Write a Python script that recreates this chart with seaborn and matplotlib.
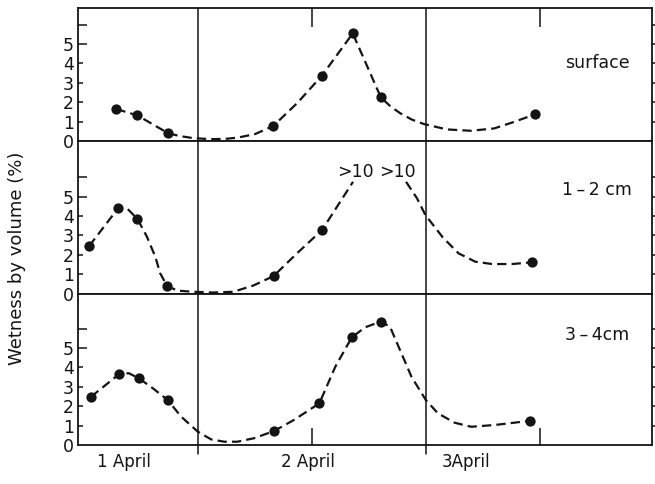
import numpy as np
import pandas as pd
import matplotlib
matplotlib.use("Agg")
import matplotlib.pyplot as plt
import matplotlib.lines as mlines
import seaborn as sns

# ---------------- data (hours since 1 April 00:00, wetness % by volume) -------------
panel_names = ["surface", "1\u2009\u2013\u20092 cm", "3\u2009\u2013\u20094cm"]
day_labels = ["1 April", "2 April", "3April"]

surface_obs_h = [15.44, 17.66, 20.90, 31.93, 37.03, 40.31, 43.27, 59.49]
surface_obs_v = [1.65, 1.32, 0.40, 0.77, 3.35, 5.55, 2.25, 1.38]
surface_curve_h = [15.44, 17.66, 20.90, 22.10, 23.26, 24.53, 25.80, 27.07, 28.23,
                   30.03, 31.93, 34.47, 37.03, 40.31, 43.27, 44.30, 45.32, 46.52,
                   47.78, 50.22, 52.72, 55.18, 57.30, 59.49]
surface_curve_v = [1.65, 1.32, 0.40, 0.26, 0.17, 0.12, 0.10, 0.12, 0.18,
                   0.36, 0.77, 1.96, 3.35, 5.55, 2.25, 1.78, 1.43, 1.11,
                   0.88, 0.60, 0.53, 0.65, 0.99, 1.38]

cm12_obs_h = [12.58, 15.66, 17.66, 20.76, 31.98, 37.07, 59.18]
cm12_obs_v = [2.45, 4.42, 3.84, 0.40, 0.90, 3.27, 1.61]
cm12_curve_a_h = [12.58, 15.66, 16.58, 17.66, 18.65, 19.53, 20.05, 20.76, 21.84,
                  23.53, 25.63, 27.74, 29.84, 31.98, 34.44, 37.07, 38.65, 40.34]
cm12_curve_a_v = [2.45, 4.42, 4.38, 3.84, 2.93, 1.90, 1.04, 0.40, 0.15,
                  0.09, 0.05, 0.09, 0.41, 0.90, 2.07, 3.27, 4.47, 5.76]
cm12_curve_b_h = [45.92, 47.07, 47.95, 49.79, 51.45, 53.21, 54.97, 57.07, 59.18]
cm12_curve_b_v = [5.76, 4.91, 4.05, 2.89, 2.07, 1.64, 1.52, 1.52, 1.61]
cm12_offscale_label = ">10"
cm12_offscale_h = [40.6, 45.05]

cm34_obs_h = [12.78, 15.74, 17.80, 20.83, 32.02, 36.80, 40.21, 43.25, 58.94]
cm34_obs_v = [2.49, 3.66, 3.44, 2.32, 0.72, 2.15, 5.55, 6.36, 1.25]
cm34_curve_h = [12.78, 15.74, 16.75, 17.80, 19.29, 20.83, 22.26, 24.00, 25.40,
                26.79, 28.18, 29.93, 32.02, 34.12, 36.80, 38.48, 40.21, 41.62,
                43.25, 44.23, 45.28, 46.49, 48.00, 49.28, 51.03, 52.77, 55.21,
                57.31, 58.94]
cm34_curve_v = [2.49, 3.66, 3.70, 3.44, 2.92, 2.32, 1.46, 0.69, 0.29,
                0.17, 0.17, 0.35, 0.72, 1.29, 2.15, 4.04, 5.55, 6.07,
                6.36, 6.10, 4.90, 3.52, 2.32, 1.63, 1.15, 0.94, 1.03,
                1.15, 1.25]

midnights = [24, 48]
noons = [36, 60]
label_hours = [16.2, 35.6, 52.2]

# ---------------- styling ----------------
sns.set_style("white")
plt.rcParams["font.family"] = ["DejaVu Sans"]
INK = "#141414"
FS = 12.5

obs = [pd.DataFrame({"h": surface_obs_h, "v": surface_obs_v}),
       pd.DataFrame({"h": cm12_obs_h, "v": cm12_obs_v}),
       pd.DataFrame({"h": cm34_obs_h, "v": cm34_obs_v})]
curves = [
    pd.DataFrame({"h": surface_curve_h, "v": surface_curve_v, "seg": 0}),
    pd.concat([pd.DataFrame({"h": cm12_curve_a_h, "v": cm12_curve_a_v, "seg": 0}),
               pd.DataFrame({"h": cm12_curve_b_h, "v": cm12_curve_b_v, "seg": 1})]),
    pd.DataFrame({"h": cm34_curve_h, "v": cm34_curve_v, "seg": 0}),
]
ylims = [6.86, 7.86, 7.81]
label_y = [4.0, 5.33, 5.67]

W, H = 655, 484
fig = plt.figure(figsize=(W / 100, H / 100), dpi=100)
fig.patch.set_facecolor("white")
gs = fig.add_gridspec(3, 1, left=78 / W, right=652 / W, top=1 - 8 / H,
                      bottom=1 - 445 / H, hspace=0, height_ratios=ylims)
axes = [fig.add_subplot(gs[i]) for i in range(3)]

for i, ax in enumerate(axes):
    sns.lineplot(data=curves[i], x="h", y="v", units="seg", estimator=None,
                 sort=False, ax=ax, color=INK, lw=1.6,
                 linestyle=(0, (4.2, 2.3)), zorder=3)
    sns.scatterplot(data=obs[i], x="h", y="v", ax=ax, color=INK, s=55,
                    edgecolor=INK, linewidth=0, zorder=4)
    ax.set_xlim(11.4, 71.8)
    ax.set_ylim(0, ylims[i])
    ax.set_xlabel("")
    ax.set_ylabel("")
    for s in ax.spines.values():
        s.set_color(INK)
        s.set_linewidth(1.3)
    for m in midnights:
        if i == 2:
            ax.axvline(m, ymin=-0.06, ymax=1, color=INK, lw=1.1, clip_on=False, zorder=2)
        else:
            ax.axvline(m, color=INK, lw=1.1, zorder=2)
    # y ticks (inward on the left, outward on the right)
    ax.set_yticks([0, 1, 2, 3, 4, 5, 6])
    ax.set_yticklabels(["0", "1", "2", "3", "4", "5", ""], fontsize=FS, color=INK)
    ax.tick_params(axis="y", which="major", left=True, right=True, direction="in",
                   length=3.5, width=1.1, color=INK, pad=3, labelright=False)
    ax.text(66.0, label_y[i], panel_names[i], ha="center", va="center",
            fontsize=FS, color=INK)
    # x ticks
    if i == 2:
        ax.set_xticks(label_hours)
        ax.set_xticklabels(day_labels, fontsize=FS - 0.5, color=INK)
        ax.tick_params(axis="x", which="major", length=0, pad=6)
        ax.set_xticks(noons, minor=True)
        ax.tick_params(axis="x", which="minor", bottom=True, direction="in",
                       length=12, width=1.1, color=INK)
    elif i == 0:
        ax.set_xticks([])
        ax.set_xticks(noons, minor=True)
        ax.tick_params(axis="x", which="minor", top=True, bottom=False,
                       direction="in", length=14, width=1.1, color=INK)
    else:
        ax.set_xticks([])

for hx in cm12_offscale_h:
    axes[1].text(hx, 6.28, cm12_offscale_label, ha="center", va="center",
                 fontsize=FS, color=INK)

fig.text(17 / W, 1 - 258 / H, "Wetness by volume (%)", rotation=90,
         ha="center", va="center", fontsize=13, color=INK)

# fine tick adjustments: longer ticks at 5 and 6, right ticks pointing outward
for ax in axes:
    for t, val in zip(ax.yaxis.get_major_ticks(), ax.get_yticks()):
        if val >= 5:
            t.tick1line.set_markersize(6.5)
            t.tick2line.set_markersize(5)
        if val == 0:
            t.tick1line.set_visible(False)
            t.tick2line.set_visible(False)
        t.tick2line.set_marker(mlines.TICKRIGHT)

fig.savefig("out.png", dpi=100, facecolor="white")
